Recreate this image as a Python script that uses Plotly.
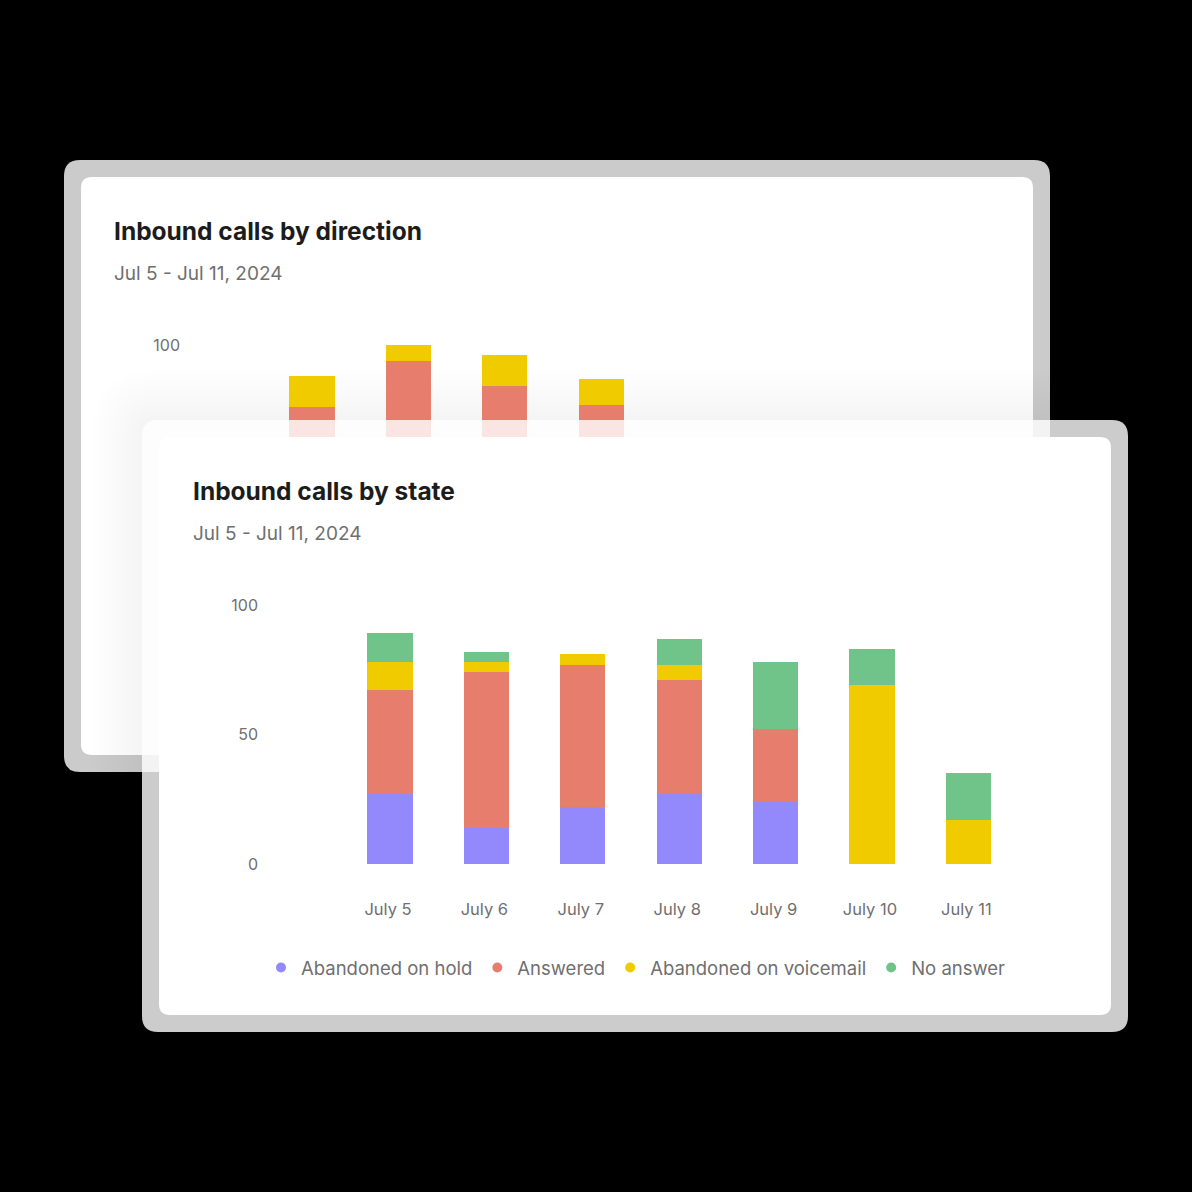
import plotly.graph_objects as go

W = H = 1192

# ---------------- data ----------------
days = ["July 5", "July 6", "July 7", "July 8", "July 9", "July 10", "July 11"]
abandoned_on_hold = [27, 14, 22, 27, 24, 0, 0]
answered = [40, 60, 55, 44, 28, 0, 0]
abandoned_on_voicemail = [11, 4, 4, 6, 0, 69, 17]
no_answer = [11, 4, 0, 10, 26, 14, 18]

# back card ("by direction") - only the visible part
dir_days = ["July 5", "July 6", "July 7", "July 8"]
dir_lower = [76, 94, 84, 77]
dir_upper = [12, 6, 12, 10]

y_ticks = [0, 50, 100]

# ---------------- style ----------------
PURPLE = "#9389fc"
RED = "#e77e6d"
YELLOW = "#efcb00"
GREEN = "#70c489"
TITLE_C = "#1c1c1c"
SUB_C = "#6f6f6f"
TICK_C = "#6f6f6f"
FONT = "Inter"

# pixel geometry of the two charts (front and back, back offset by (-78,-260))
FX0, FY0 = 390.0, 864.0      # pixel of category 0 / value 0 (front)
BX0, BY0 = 312.0, 604.0      # (back)
DX, DY = 96.4, 2.59          # px per category, px per unit


def fx(px):
    return (px - FX0) / DX


def fy(py):
    return (FY0 - py) / DY


def px_(px):
    return px / W


def py_(py):
    return 1 - py / H


def rounded(x0, y0, x1, y1, r, tx, ty):
    p = []
    p.append(f"M{tx(x0 + r)},{ty(y0)}")
    p.append(f"L{tx(x1 - r)},{ty(y0)}")
    p.append(f"Q{tx(x1)},{ty(y0)} {tx(x1)},{ty(y0 + r)}")
    p.append(f"L{tx(x1)},{ty(y1 - r)}")
    p.append(f"Q{tx(x1)},{ty(y1)} {tx(x1 - r)},{ty(y1)}")
    p.append(f"L{tx(x0 + r)},{ty(y1)}")
    p.append(f"Q{tx(x0)},{ty(y1)} {tx(x0)},{ty(y1 - r)}")
    p.append(f"L{tx(x0)},{ty(y0 + r)}")
    p.append(f"Q{tx(x0)},{ty(y0)} {tx(x0 + r)},{ty(y0)}")
    p.append("Z")
    return " ".join(p)


fig = go.Figure()

# ---- back chart (subplot xy) ----
fig.add_trace(go.Bar(x=dir_days, y=dir_lower, marker_color=RED, marker_line_width=0,
                     width=0.467, showlegend=False, hoverinfo="skip", xaxis="x", yaxis="y"))
fig.add_trace(go.Bar(x=dir_days, y=dir_upper, marker_color=YELLOW, marker_line_width=0,
                     width=0.467, showlegend=False, hoverinfo="skip", xaxis="x", yaxis="y"))

# ---- front chart (subplot x2y2) ----
series = [
    ("Abandoned on hold", abandoned_on_hold, PURPLE),
    ("Answered", answered, RED),
    ("Abandoned on voicemail", abandoned_on_voicemail, YELLOW),
    ("No answer", no_answer, GREEN),
]
for name, vals, col in series:
    fig.add_trace(go.Bar(x=days, y=vals, name=name, marker_color=col, marker_line_width=0,
                         width=0.467, showlegend=False, legendgroup=name,
                         hoverinfo="skip", xaxis="x2", yaxis="y2"))
for name, vals, col in series:
    fig.add_trace(go.Scatter(x=[None], y=[None], mode="markers", name=name,
                             marker=dict(color=col, size=10, symbol="circle"),
                             legendgroup=name, showlegend=True, xaxis="x2", yaxis="y2"))

shapes = []
# back card (paper, lowest layer)
shapes.append(dict(type="path", xref="paper", yref="paper", layer="below",
                   path=rounded(64, 160, 1050, 772, 16, px_, py_),
                   fillcolor="#cbcbcb", line=dict(width=0)))
shapes.append(dict(type="path", xref="paper", yref="paper", layer="below",
                   path=rounded(81, 177, 1033, 755, 11, px_, py_),
                   fillcolor="#ffffff", line=dict(width=0)))
# soft shadow of the front card falling on the back card
for i in range(1, 11):
    e = 5 * i
    shapes.append(dict(type="path", xref="paper", yref="paper", layer="below",
                       path=rounded(142 - e, 420 - e, 1128 + e, 1032 + e, 16 + e, px_, py_),
                       fillcolor="rgba(0,0,0,0.005)", line=dict(width=0)))
# front card (drawn in front subplot's below-layer -> above back chart)
shapes.append(dict(type="path", xref="x2", yref="y2", layer="below",
                   path=rounded(142, 420, 1128, 1032, 16, fx, fy),
                   fillcolor="rgba(255,255,255,0.8)", line=dict(width=0)))
shapes.append(dict(type="path", xref="x2", yref="y2", layer="below",
                   path=rounded(159, 437, 1111, 1015, 11, fx, fy),
                   fillcolor="#ffffff", line=dict(width=0)))

annotations = [
    dict(text="Inbound calls by direction", x=px_(112), y=py_(231), xref="paper", yref="paper",
         xanchor="left", yanchor="middle", showarrow=False,
         font=dict(family=FONT, size=24.5, color=TITLE_C, weight=700)),
    dict(text="Jul 5 - Jul 11, 2024", x=px_(112), y=py_(273), xref="paper", yref="paper",
         xanchor="left", yanchor="middle", showarrow=False,
         font=dict(family=FONT, size=19, color=SUB_C)),
    dict(text="Inbound calls by state", x=px_(191), y=py_(491), xref="paper", yref="paper",
         xanchor="left", yanchor="middle", showarrow=False,
         font=dict(family=FONT, size=24.5, color=TITLE_C, weight=700)),
    dict(text="Jul 5 - Jul 11, 2024", x=px_(191), y=py_(533), xref="paper", yref="paper",
         xanchor="left", yanchor="middle", showarrow=False,
         font=dict(family=FONT, size=19, color=SUB_C)),
]

axis_common = dict(showgrid=False, zeroline=False, showline=False, ticks="", domain=[0, 1])
xfont = dict(family=FONT, size=16.5, color=TICK_C)
yfont = dict(family=FONT, size=16, color=TICK_C)

fig.update_layout(
    width=W, height=H,
    margin=dict(l=0, r=0, t=0, b=0),
    paper_bgcolor="#000000",
    plot_bgcolor="rgba(0,0,0,0)",
    barmode="stack",
    showlegend=True,
    hovermode=False,
    shapes=shapes,
    annotations=annotations,
    xaxis=dict(axis_common, type="category", categoryorder="array", categoryarray=days,
               range=[(0 - BX0) / DX, (W - BX0) / DX], anchor="free", position=py_(637),
               tickfont=xfont, ticklabelshift=-2),
    yaxis=dict(axis_common, range=[(BY0 - H) / DY, BY0 / DY], tickvals=y_ticks,
               anchor="free", position=px_(180), tickfont=yfont),
    xaxis2=dict(axis_common, type="category", categoryorder="array", categoryarray=days,
                range=[fx(0), fx(W)], anchor="free", position=py_(897),
                tickfont=xfont, ticklabelshift=-2),
    yaxis2=dict(axis_common, range=[fy(H), fy(0)], tickvals=y_ticks,
                anchor="free", position=px_(258), tickfont=yfont),
    legend=dict(orientation="h", x=px_(636), xanchor="center", y=py_(968), yanchor="middle",
                bgcolor="rgba(0,0,0,0)", font=dict(family=FONT, size=18.5, color=SUB_C),
                itemwidth=30, traceorder="normal"),
)

fig.write_html("out.html", config=dict(displayModeBar=False, staticPlot=True))
